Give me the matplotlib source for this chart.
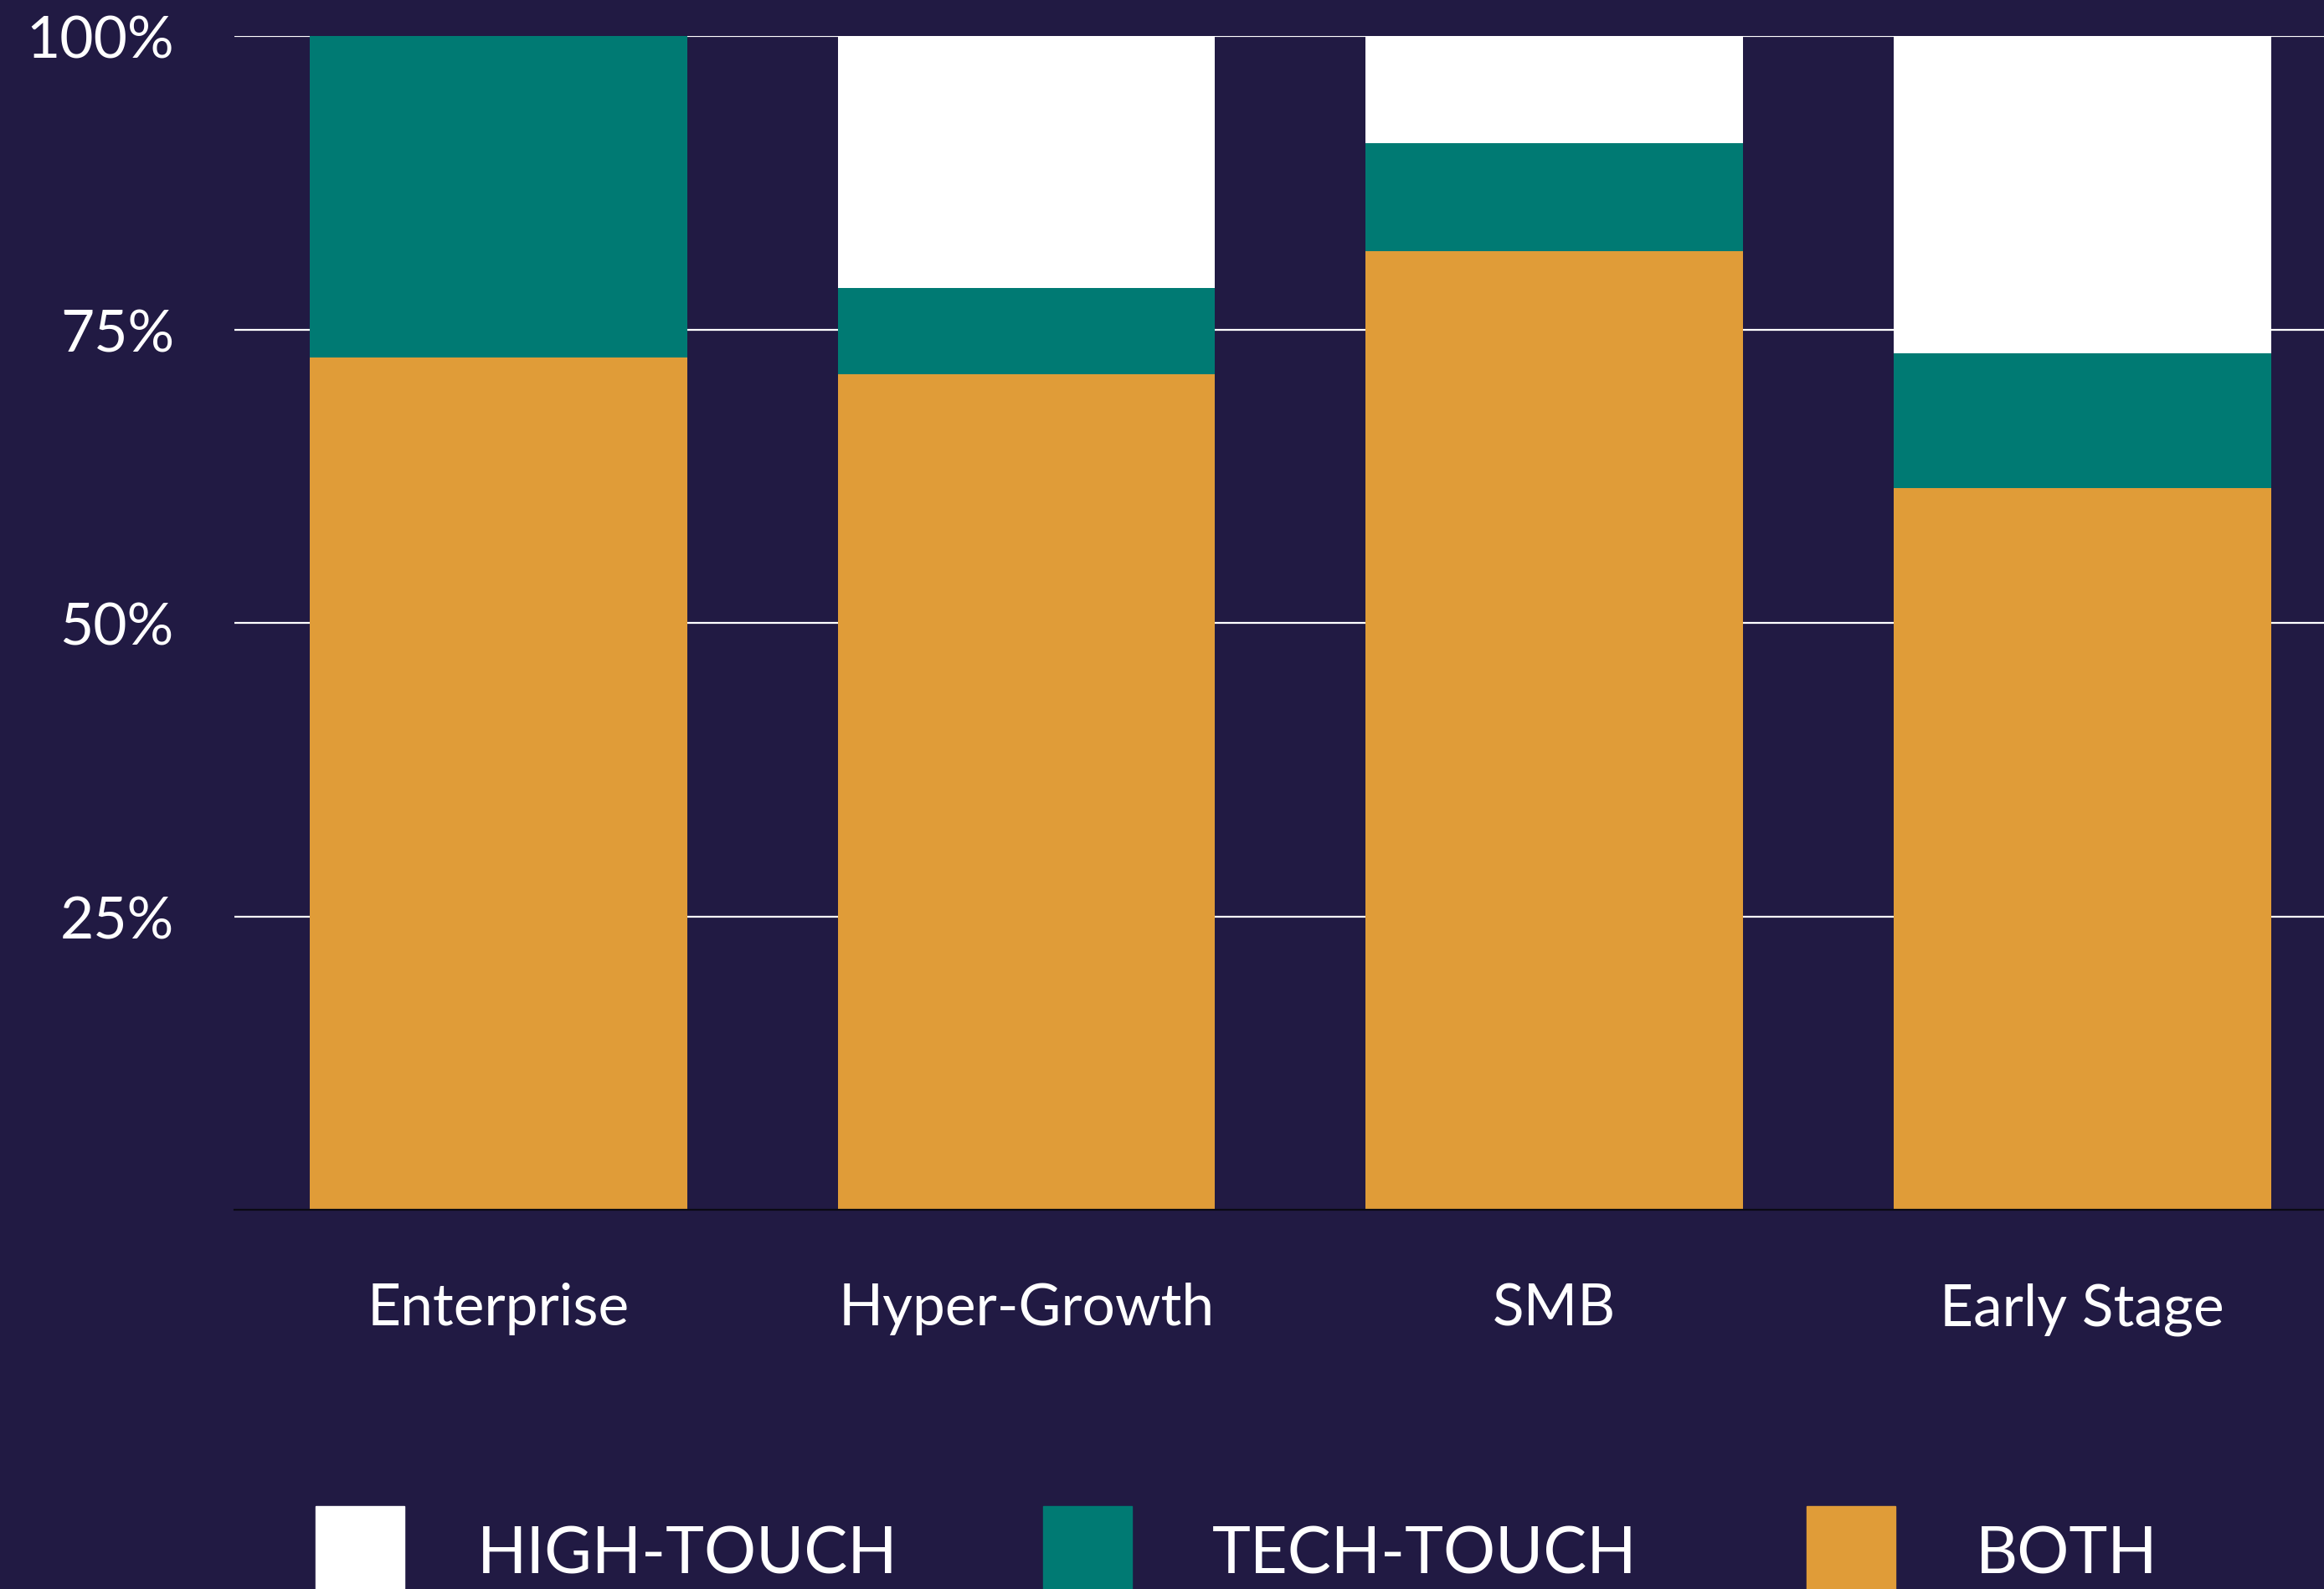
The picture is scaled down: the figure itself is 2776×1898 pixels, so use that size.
"""Stacked share of customer-success model by company segment."""

import matplotlib
matplotlib.use("Agg")
import matplotlib.pyplot as plt
from matplotlib.patches import Rectangle
import numpy as np

segments = ["Enterprise", "Hyper-Growth", "SMB", "Early Stage"]
both = [72.6, 71.2, 81.7, 61.5]
tech_touch = [27.4, 7.3, 9.2, 11.5]
high_touch = [0.0, 21.5, 9.1, 27.0]
yticks = [25, 50, 75, 100]
ytick_labels = ["25%", "50%", "75%", "100%"]
legend_labels = ["HIGH-TOUCH", "TECH-TOUCH", "BOTH"]

BG = "#211A43"
ORANGE = "#E09C38"
TEAL = "#007A73"
WHITE = "#FFFFFF"

plt.rcParams["font.family"] = ["Lato", "DejaVu Sans"]

fig = plt.figure(figsize=(27.76, 18.99), dpi=100, facecolor=BG)
ax = fig.add_axes([0.1009, 0.2385, 0.8991, 0.7383])
ax.set_facecolor(BG)

x = np.arange(len(segments))
w = 0.715
both_a = np.array(both)
tech_a = np.array(tech_touch)
high_a = np.array(high_touch)
ax.bar(x, both_a, width=w, color=ORANGE, zorder=2)
ax.bar(x, tech_a, width=w, bottom=both_a, color=TEAL, zorder=2)
ax.bar(x, high_a, width=w, bottom=both_a + tech_a, color=WHITE, zorder=2)

ax.set_xlim(-0.5, 3.458)
ax.set_ylim(0, 100)
ax.set_yticks(yticks, ytick_labels)
ax.set_xticks(x, segments)
ax.tick_params(axis="both", length=0, colors=WHITE)
ax.tick_params(axis="y", labelsize=50, pad=52)
ax.tick_params(axis="x", labelsize=50, pad=62)
ax.grid(axis="y", color=WHITE, linewidth=1.6, zorder=0)
ax.set_axisbelow(True)
for s in ["top", "right", "left"]:
    ax.spines[s].set_visible(False)
ax.spines["bottom"].set_color("#0A0A14")
ax.spines["bottom"].set_linewidth(1.6)
ax.spines["bottom"].set_zorder(3)

# legend along the bottom edge, squares run off the canvas
W, H = 2776, 1899
sq_left = [377, 1246, 2158]
txt_left = [570, 1448, 2360]
for col, sl, tl, lab in zip([WHITE, TEAL, ORANGE], sq_left, txt_left, legend_labels):
    fig.add_artist(Rectangle((sl / W, 0), 106 / W, (H - 1800) / H,
                             transform=fig.transFigure, color=col))
    fig.text(tl / W, 1 - 1858 / H, lab, color=WHITE, fontsize=56,
             va="center", ha="left")

fig.savefig("out.png", dpi=100, facecolor=BG)
